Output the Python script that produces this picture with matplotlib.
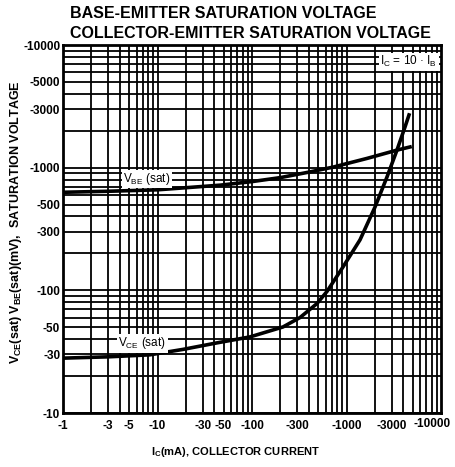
import matplotlib
matplotlib.use("Agg")
import matplotlib.pyplot as plt
from matplotlib.ticker import FixedLocator, NullFormatter

# collector current magnitude (mA) and saturation voltage magnitude (mV)
vbe_ic = [1, 3, 10, 46, 100, 200, 400, 720, 1650, 3420, 4700]
vbe_mv = [630, 642, 660, 720, 770, 830, 920, 1010, 1190, 1390, 1475]
vce_ic = [1, 3, 8.3, 18.6, 42.6, 95, 213, 322, 487, 622, 918, 1390, 2004, 2683, 3423, 4160, 4585]
vce_mv = [28, 28.7, 29.8, 33, 37.3, 41.7, 50.3, 60, 78, 98, 155, 258, 478, 840, 1393, 2146, 2690]

x_ticks = [1, 3, 5, 10, 30, 50, 100, 300, 1000, 3000, 10000]
y_ticks = [10, 30, 50, 100, 300, 500, 1000, 3000, 5000, 10000]

FONT = "Liberation Sans"

fig = plt.figure(figsize=(4.56, 4.67), dpi=100)
ax = fig.add_axes([63 / 456, 1 - 413 / 467, (441 - 63) / 456, (413 - 45) / 467])
ax.set_xscale("log")
ax.set_yscale("log")
ax.set_xlim(1, 10000)
ax.set_ylim(10, 10000)

# datasheet grid: a line at every 1..9 of each decade
for g in [m * 10 ** d for d in range(4) for m in range(1, 10)]:
    ax.axvline(g, color="black", lw=1.3, zorder=1)
for g in [m * 10 ** d for d in range(1, 4) for m in range(1, 10)]:
    ax.axhline(g, color="black", lw=1.3, zorder=1)

ax.plot(vbe_ic, vbe_mv, color="black", lw=2.6, zorder=3, solid_joinstyle="round")
ax.plot(vce_ic, vce_mv, color="black", lw=2.6, zorder=3, solid_joinstyle="round")

ax.xaxis.set_major_locator(FixedLocator(x_ticks))
ax.yaxis.set_major_locator(FixedLocator(y_ticks))
ax.xaxis.set_minor_formatter(NullFormatter())
ax.yaxis.set_minor_formatter(NullFormatter())
# last x label is drawn by hand, shifted left like the original
ax.set_xticklabels([f"-{v}" for v in x_ticks[:-1]] + [""], fontsize=8.5, fontweight="bold", family=FONT)
ax.set_yticklabels([f"-{v}" for v in y_ticks], fontsize=8.5, fontweight="bold", family=FONT)
ax.tick_params(which="both", length=0)
ax.tick_params(axis="y", pad=2)
ax.tick_params(axis="x", pad=5)
for s in ax.spines.values():
    s.set_linewidth(2)
fig.text(432 / 456, 1 - 424 / 467, f"-{x_ticks[-1]}", fontsize=8.5, fontweight="bold",
         family=FONT, ha="center", va="center")

box = dict(facecolor="white", edgecolor="none", pad=1)
ax.text(7.7, 809, r"V$_{\mathregular{BE}}$ (sat)", fontsize=8.5, family=FONT, zorder=4,
        ha="center", va="center", bbox=box)
ax.text(6.9, 37, r"V$_{\mathregular{CE}}$ (sat)", fontsize=8.5, family=FONT, zorder=4,
        ha="center", va="center", bbox=box)
ax.text(0.99, 0.955, r"I$_{\mathregular{C}}$ = 10 · I$_{\mathregular{B}}$", transform=ax.transAxes,
        fontsize=8.5, family=FONT, ha="right", va="center", zorder=4, bbox=box)

fig.text(70 / 456, 1 - 14 / 467, "BASE-EMITTER SATURATION VOLTAGE", fontsize=11.5,
         fontweight="bold", family=FONT, ha="left", va="center")
fig.text(70 / 456, 1 - 33 / 467, "COLLECTOR-EMITTER SATURATION VOLTAGE", fontsize=11.5,
         fontweight="bold", family=FONT, ha="left", va="center")
fig.text(236 / 456, 1 - 452 / 467, r"I$_{\mathregular{C}}$(mA), COLLECTOR CURRENT", fontsize=8,
         fontweight="bold", family=FONT, ha="center", va="center")
fig.text(16 / 456, 1 - 222 / 467,
         r"V$_{\mathregular{CE}}$(sat) V$_{\mathregular{BE}}$(sat)(mV),  SATURATION VOLTAGE",
         fontsize=9, fontweight="bold", family=FONT, ha="center", va="center", rotation=90)

fig.savefig("out.png", dpi=100)
